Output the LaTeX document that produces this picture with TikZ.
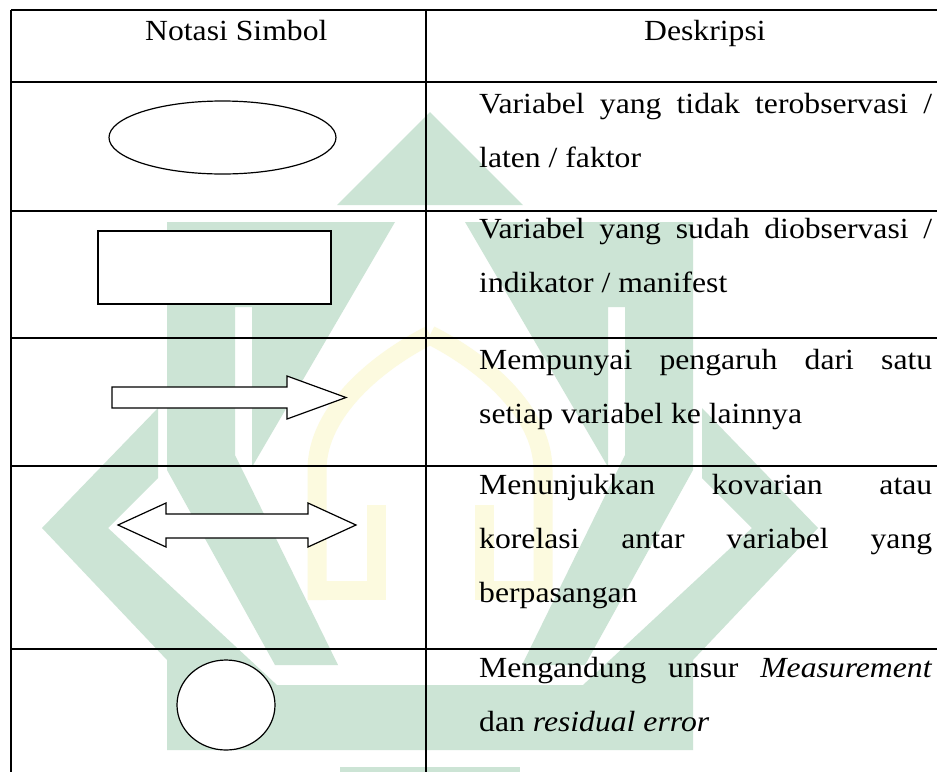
\documentclass[tikz,border=0pt]{standalone}
\usepackage{fontspec}
\setmainfont{Liberation Serif}
\usetikzlibrary{shapes.geometric}
\definecolor{wgreen}{HTML}{CCE4D5}
\definecolor{wyellow}{HTML}{FCFADF}
\newcommand{\wide}[1]{\scalebox{1.085}[1]{#1}}
\newcommand{\just}[1]{\scalebox{1.085}[1]{\makebox[417.5pt][s]{#1}}}
\newcommand{\wmhalf}{%
  \fill[wmg] (167,222) -- (395,222) -- (252,467) -- (252,307) -- (235,307) -- (235,455) -- (338,665) -- (275,665) -- (167,470) -- cycle;
  \fill[wmg] (158,408) -- (158,478) -- (108,528) -- (277,685) -- (430,685) -- (430,750) -- (167,750) -- (167,660) -- (42,528) -- cycle;
  \fill[wmg] (340,767) -- (430,767) -- (430,772) -- (340,772) -- cycle;
  \draw[wmy] (317,600) -- (317,470) .. controls (317,410) and (380,360) .. (430,335);
  \draw[wmy] (317,590) -- (376,590) -- (376,505);
}
\begin{document}
\begin{tikzpicture}[x=1pt,y=-1pt]
\tikzset{
  gridline/.style={line width=1.5pt, black},
  symb/.style={draw=black, line width=1.2pt, fill=white, inner sep=0pt},
  txt/.style={anchor=base west, inner sep=0pt, font=\fontsize{29.2}{35}\selectfont},
  wmg/.style={fill=wgreen},
  wmy/.style={draw=wyellow, line width=19pt},
}
\useasboundingbox (0,0) rectangle (937,772);
\fill[white] (0,0) rectangle (937,772);
% watermark
\fill[wmg] (337,205) -- (430,112) -- (523,205) -- cycle;
\wmhalf
\begin{scope}[xshift=860pt, xscale=-1]
\wmhalf
\end{scope}
% table grid
\draw[gridline] (11,10) -- (937,10);
\draw[gridline] (11,82) -- (937,82);
\draw[gridline] (11,211) -- (937,211);
\draw[gridline] (11,338) -- (937,338);
\draw[gridline] (11,466) -- (937,466);
\draw[gridline] (11,649) -- (937,649);
\draw[gridline] (11,10) -- (11,772);
\draw[gridline] (426,10) -- (426,772);
% header
\node[txt] (h1) at (145,40) {\wide{Notasi Simbol}};
\node[txt] (h2) at (644,40) {\wide{Deskripsi}};
% symbols
\node[symb, ellipse, minimum width=227pt, minimum height=73pt] (ell) at (222.5,137.5) {};
\node[symb, rectangle, minimum width=233pt, minimum height=73pt] (rect) at (214.5,267.5) {};
\draw[symb] (112,387) -- (287,387) -- (287,376) -- (346,397.5) -- (287,419) -- (287,408) -- (112,408) -- cycle;
\draw[symb] (118,525) -- (166,503) -- (166,514) -- (308,514) -- (308,503) -- (356,525) -- (308,547) -- (308,538) -- (166,538) -- (166,547) -- cycle;
\node[symb, ellipse, minimum width=98pt, minimum height=90pt] (circ) at (226,705) {};
% descriptions
\node[txt] (d1a) at (479,113) {\just{Variabel yang tidak terobservasi /}};
\node[txt] (d1b) at (479,167) {\wide{laten / faktor}};
\node[txt] (d2a) at (479,238) {\just{Variabel yang sudah diobservasi /}};
\node[txt] (d2b) at (479,292) {\wide{indikator / manifest}};
\node[txt] (d3a) at (479,369) {\just{Mempunyai pengaruh dari satu}};
\node[txt] (d3b) at (479,423) {\wide{setiap variabel ke lainnya}};
\node[txt] (d4a) at (479,494) {\just{Menunjukkan kovarian atau}};
\node[txt] (d4b) at (479,548) {\just{korelasi antar variabel yang}};
\node[txt] (d4c) at (479,602) {\wide{berpasangan}};
\node[txt] (d5a) at (479,677) {\just{Mengandung unsur \textit{Measurement}}};
\node[txt] (d5b) at (479,731) {\wide{dan \textit{residual error}}};
\end{tikzpicture}
\end{document}
